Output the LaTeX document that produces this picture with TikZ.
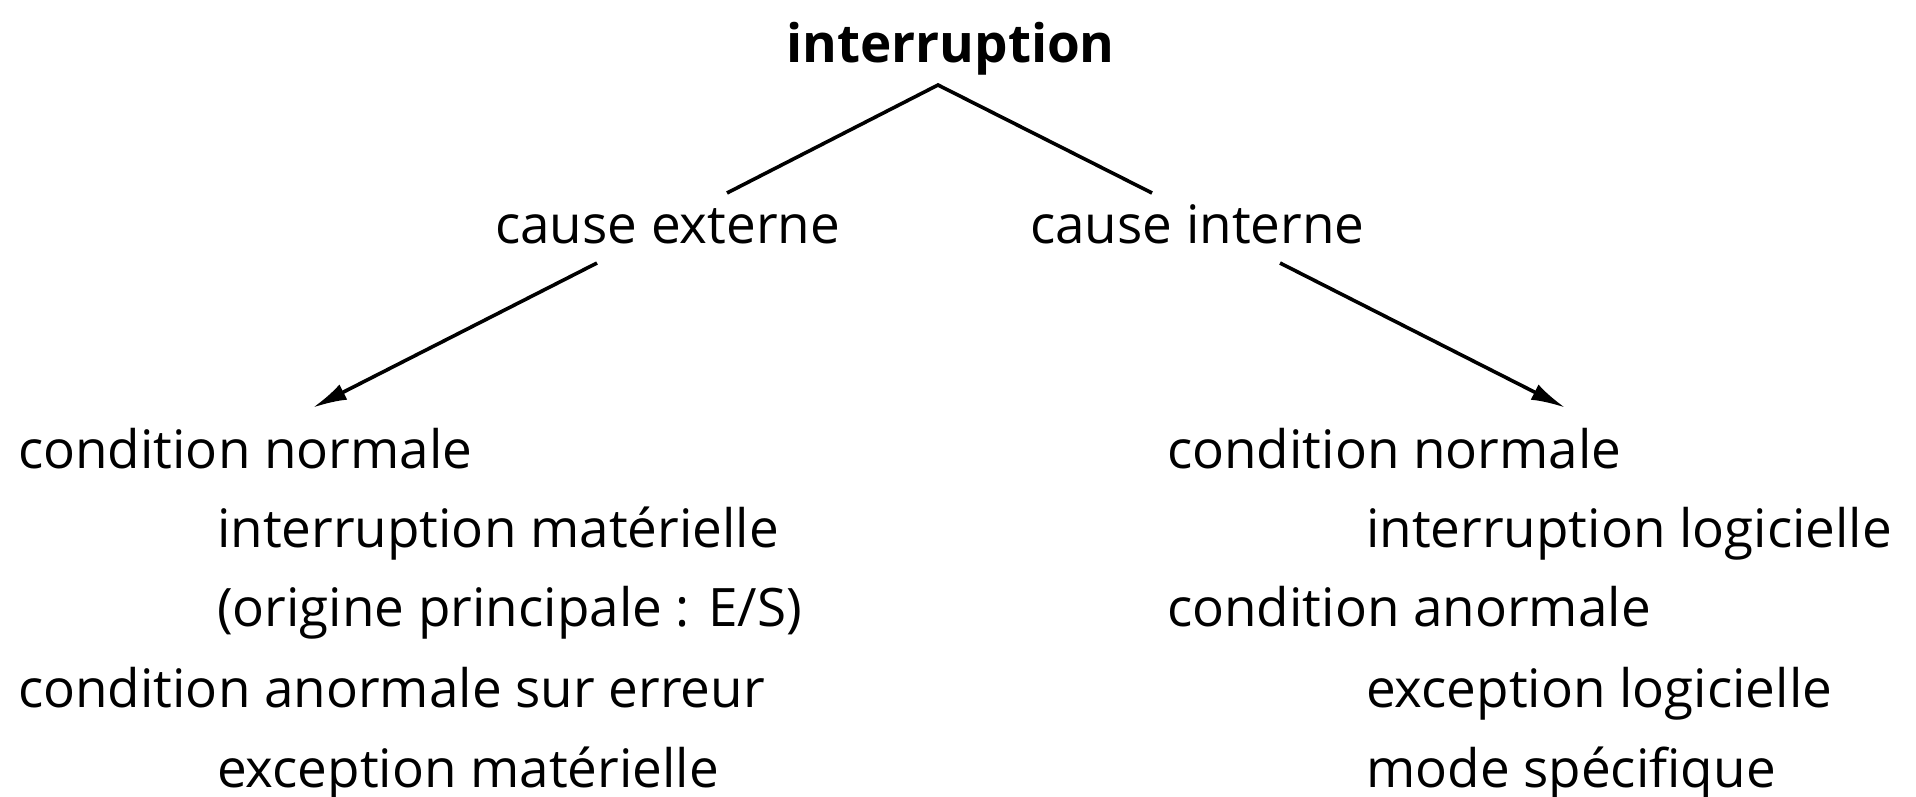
\documentclass[tikz,border=0pt]{standalone}
\usepackage{fontspec}
\setmainfont{Open Sans}
\usetikzlibrary{arrows.meta,calc}
\begin{document}
\begin{tikzpicture}[x=1pt,y=-1pt,
  txt/.style={inner sep=0pt,anchor=base west,font=\fontsize{53}{64}\selectfont},
  ttl/.style={inner sep=0pt,anchor=base west,font=\fontsize{53}{64}\selectfont\bfseries},
  branch/.style={line width=3.6pt},
  arr/.style={line width=3.6pt,-{Latex[length=34pt,width=17pt]}}]
\useasboundingbox (0,0) rectangle (1916,796);
\node[ttl] (intr) at (786,62) {interruption};
\node[txt] (ce) at (495,243) {cause externe};
\node[txt] (ci) at (1030,243) {cause interne};
% left column
\node[txt] (l1) at (18,468) {condition normale};
\node[txt] (l2) at (217,547) {interruption matérielle};
\node[txt] (l3) at (217,626) {(origine principale : E/S)};
\node[txt] (l4) at (18,707) {condition anormale sur erreur};
\node[txt] (l5) at (217,787) {exception matérielle};
% right column
\node[txt] (r1) at (1167,468) {condition normale};
\node[txt] (r2) at (1366,547) {interruption logicielle};
\node[txt] (r3) at (1167,626) {condition anormale};
\node[txt] (r4) at (1366,707) {exception logicielle};
\node[txt] (r5) at (1366,787) {mode spécifique};
% connectors
\coordinate (apex) at ($(intr.base west)+(152,23)$);
\draw[branch,line join=miter] ($(ce.base west)+(232,-50)$) -- (apex) -- ($(ci.base west)+(122,-50)$);
\draw[arr] ($(ce.base west)+(102,20)$) -- ($(l1.north west)+(295,-20)$);
\draw[arr] ($(ci.base west)+(250,20)$) -- ($(r1.north west)+(398,-20)$);
\end{tikzpicture}
\end{document}
